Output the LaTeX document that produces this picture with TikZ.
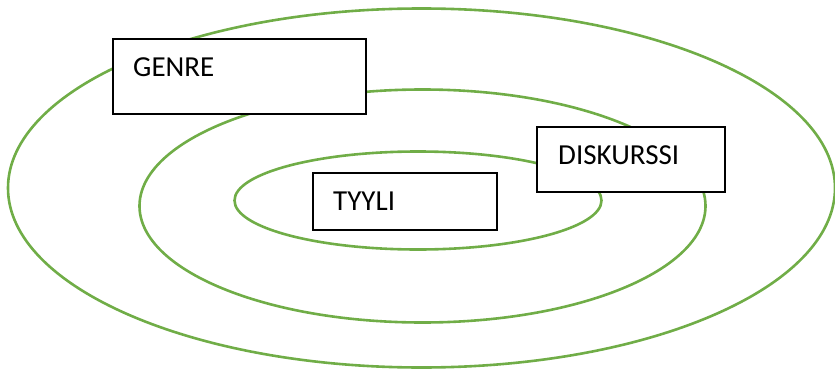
\documentclass[tikz,border=0pt]{standalone}
\usepackage{fontspec}
\setmainfont{Carlito}
\definecolor{ringgreen}{HTML}{70AD47}
\begin{document}
\begin{tikzpicture}[x=1pt,y=-1pt,
  ring/.style={draw=ringgreen,line width=2.6pt},
  labelbox/.style={draw=black,line width=1.2pt,fill=white},
  labeltext/.style={anchor=base west,inner sep=0pt,font=\fontsize{29}{34}\selectfont}]
\useasboundingbox (0,0) rectangle (835,369);
% concentric rings
\draw[ring] (421.5,188) ellipse [x radius=413.5,y radius=179.5];
\draw[ring] (422.5,206) ellipse [x radius=283,y radius=116.5];
\draw[ring] (418,200.5) ellipse [x radius=183.5,y radius=49];
% label boxes
\path[labelbox] (113,39) rectangle (366,114);
\node[labeltext] (genre) at (133,77) {GENRE};
\path[labelbox] (537,127) rectangle (725,192);
\node[labeltext] (diskurssi) at (558,164) {DISKURSSI};
\path[labelbox] (313,173) rectangle (497,230);
\node[labeltext] (tyyli) at (333,210) {TYYLI};
\end{tikzpicture}
\end{document}
